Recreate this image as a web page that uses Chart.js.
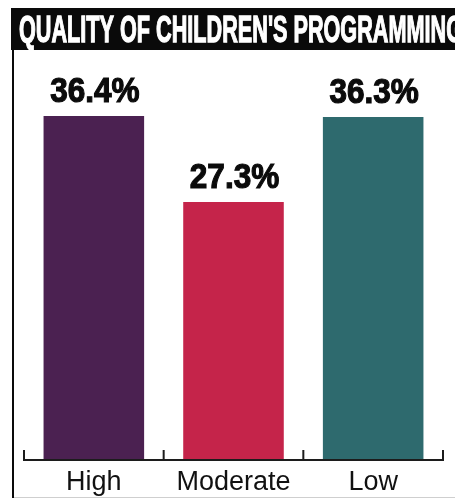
<!DOCTYPE html>
<html>
<head>
<meta charset="utf-8">
<script src="https://cdn.jsdelivr.net/npm/chart.js@4"></script>
<style>
  html, body { margin: 0; padding: 0; background: #fff; }
  .wrap { width: 455px; height: 500px; position: relative; }
</style>
</head>
<body>
<div class="wrap"><canvas class="quality-chart"></canvas></div>
<script>
const chartTitle = "QUALITY OF CHILDREN'S PROGRAMMING";
const categories = ["High", "Moderate", "Low"];
const shares = [36.4, 27.3, 36.3];
const shareLabels = ["36.4%", "27.3%", "36.3%"];

// black title band + left frame line
const frame = {
  id: "frame",
  beforeDraw(chart) {
    const c = chart.ctx;
    c.save();
    c.fillStyle = "#fff";
    c.fillRect(0, 0, chart.width, chart.height);
    c.fillStyle = "#0a0a0a";
    c.fillRect(11, 8, chart.width - 11, 42);
    c.fillRect(12, 50, 2, 448);
    c.fillStyle = "#cfcfcf";
    c.fillRect(14, 497, chart.width - 14, 1);

    c.font = "bold 34px 'Liberation Sans'";
    c.fillStyle = "#fff";
    c.strokeStyle = "#fff";
    c.lineWidth = 1.2;
    c.textBaseline = "alphabetic";
    const w = c.measureText(chartTitle).width;
    c.translate(19, 42);
    c.scale(444 / w, 1.1);
    c.fillText(chartTitle, 0, 0);
    c.strokeText(chartTitle, 0, 0);
    c.restore();
  }
};

// axis line with upward ticks, category names, value labels
const marks = {
  id: "marks",
  afterDatasetsDraw(chart) {
    const c = chart.ctx;
    const x = chart.scales.x;
    const y0 = chart.chartArea.bottom;
    c.save();
    c.strokeStyle = "#1c1c1c";
    c.lineWidth = 2;
    c.beginPath();
    c.moveTo(x.left, y0);
    c.lineTo(x.right, y0);
    const edges = [x.left];
    for (let i = 0; i < categories.length - 1; i++) {
      edges.push((x.getPixelForValue(i) + x.getPixelForValue(i + 1)) / 2);
    }
    edges.push(x.right);
    edges.forEach(px => {
      c.moveTo(px, y0 + 1);
      c.lineTo(px, y0 - 10);
    });
    c.stroke();

    c.textAlign = "center";
    c.textBaseline = "alphabetic";
    c.fillStyle = "#111";
    c.font = "27px 'Liberation Sans'";
    categories.forEach((name, i) => {
      c.fillText(name, x.getPixelForValue(i), y0 + 30);
    });

    c.fillStyle = "#0b0b0b";
    c.strokeStyle = "#0b0b0b";
    c.lineWidth = 1.2;
    c.font = "bold 35px 'Liberation Sans'";
    chart.getDatasetMeta(0).data.forEach((bar, i) => {
      c.save();
      c.translate(bar.x + 1, bar.y - 14);
      c.scale(0.9, 1);
      c.fillText(shareLabels[i], 0, 0);
      c.strokeText(shareLabels[i], 0, 0);
      c.restore();
    });
    c.restore();
  }
};

new Chart(document.querySelector(".quality-chart"), {
  type: "bar",
  data: {
    labels: categories,
    datasets: [{
      data: shares,
      backgroundColor: ["#4b2151", "#c5244a", "#2e6a6e"],
      borderWidth: 0,
      barPercentage: 0.72,
      categoryPercentage: 1
    }]
  },
  options: {
    responsive: true,
    maintainAspectRatio: false,
    animation: false,
    layout: { padding: { top: 82, left: 24, right: 12, bottom: 40 } },
    plugins: {
      legend: { display: false },
      tooltip: { enabled: false }
    },
    scales: {
      y: { display: false, min: 0, max: 40 },
      x: { display: false }
    }
  },
  plugins: [frame, marks]
});
</script>
</body>
</html>
